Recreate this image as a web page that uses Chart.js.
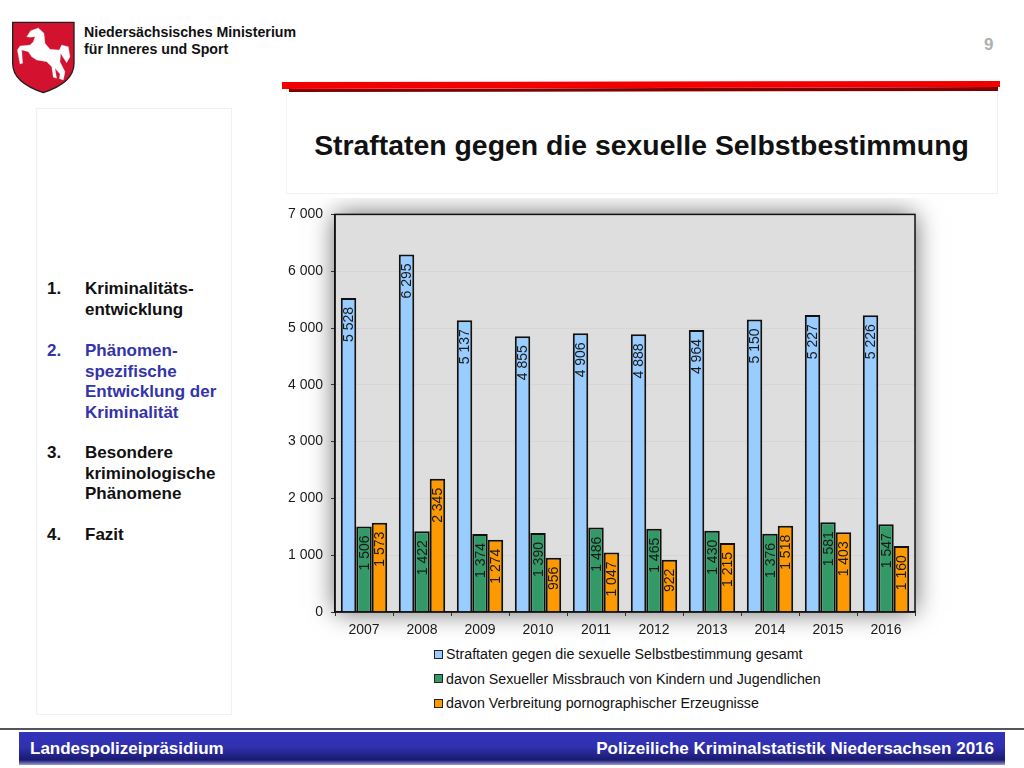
<!DOCTYPE html>
<html lang="de">
<head>
<meta charset="utf-8">
<title>Straftaten gegen die sexuelle Selbstbestimmung</title>
<script src="https://cdn.jsdelivr.net/npm/chart.js@4"></script>
<style>
    html, body { margin: 0; padding: 0; background: #fff; }
    body { position: relative; width: 1024px; height: 768px; overflow: hidden; font-family: "Liberation Sans", Arial, sans-serif; color: #111; }
    .abs { position: absolute; }
    #ministry { left: 84px; top: 24px; font-size: 14.2px; font-weight: bold; line-height: 17px; white-space: nowrap; }
    #pagenum { left: 984px; top: 35px; font-size: 17px; font-weight: bold; color: #b0b0b0; }
    #titlebox { left: 286px; top: 90px; width: 710px; height: 103px; border: 1px solid #f1f1f1; border-top: none; }
    #title { left: 286px; top: 129px; width: 711px; text-align: center; font-size: 28.4px; font-weight: bold; white-space: nowrap; }
    #sidebox { left: 36px; top: 108px; width: 194px; height: 605px; border: 1px solid #f1f1f1; }
    .nav { left: 47px; width: 180px; font-size: 17px; font-weight: bold; line-height: 20.5px; }
    .nav span { position: absolute; left: 0; }
    .nav div { margin-left: 38px; white-space: nowrap; }
    #red { left: 282px; top: 80px; width: 718px; height: 13px; }
    #canvas-wrap { left: 280px; top: 198px; width: 720px; height: 442px; }
    #legend { left: 434px; top: 642px; font-size: 14.25px; }
    .leg { height: 24.5px; line-height: 24px; white-space: nowrap; display: flex; align-items: center; }
    .leg i { display: inline-block; width: 7px; height: 7px; border: 1.5px solid #222; margin-right: 3px; }
    #footline { left: 0; top: 728px; width: 1024px; height: 2px; background: #555; }
    #footer { left: 19px; top: 732px; width: 986px; height: 33px; background: linear-gradient(#3333bb 0%, #3030b0 45%, #1a1a70 85%, #9a9ad8 100%); color: #fff; font-size: 17px; font-weight: bold; line-height: 33px; }
    #footer .l { position: absolute; left: 11px; }
    #footer .r { position: absolute; right: 11px; }
</style>
</head>
<body>
<svg class="abs" style="left:12px;top:21px" width="63" height="73" viewBox="36 63 189 219">
    <path d="M38 67 H222 V190 C222 240 170 265 130 278 C90 265 38 240 38 190 Z" fill="#d3122f" stroke="#222" stroke-width="4"/>
    <path d="M80 110 L92 92 L115 84 L132 100 L135 130 L150 148 L178 150 L185 135 L205 140 L210 170 L200 188 L188 170 L182 160 L180 185 L195 215 L190 240 L178 236 L180 222 L165 205 L170 235 L160 232 L155 200 L140 185 L110 180 L95 170 L85 155 L65 150 L68 190 L60 192 L52 150 L60 138 L90 135 L100 125 L105 110 L90 112 Z" fill="#fff" stroke="#ddd" stroke-width="1"/>
</svg>
<div class="abs" id="ministry">Niedersächsisches Ministerium<br>für Inneres und Sport</div>
<div class="abs" id="pagenum">9</div>

<div class="abs" id="titlebox"></div>
<svg class="abs" id="red" viewBox="0 0 718 13">
    <polygon points="7,9 716,7 716,11 7,12" fill="#800000"/>
    <polygon points="0,2 718,1 718,7 0,9" fill="#f20000"/>
</svg>
<div class="abs" id="title">Straftaten gegen die sexuelle Selbstbestimmung</div>

<div class="abs" id="sidebox"></div>
<div class="abs nav" style="top:279px"><span>1.</span><div>Kriminalitäts-<br>entwicklung</div></div>
<div class="abs nav" style="top:341px;color:#3333aa"><span>2.</span><div>Phänomen-<br>spezifische<br>Entwicklung der<br>Kriminalität</div></div>
<div class="abs nav" style="top:443px"><span>3.</span><div>Besondere<br>kriminologische<br>Phänomene</div></div>
<div class="abs nav" style="top:525px"><span>4.</span><div>Fazit</div></div>

<div class="abs" id="canvas-wrap"><canvas id="chart"></canvas></div>
<div class="abs" id="legend"></div>

<div class="abs" id="footline"></div>
<div class="abs" id="footer"><span class="l">Landespolizeipräsidium</span><span class="r">Polizeiliche Kriminalstatistik Niedersachsen 2016</span></div>

<script>
const years = ['2007', '2008', '2009', '2010', '2011', '2012', '2013', '2014', '2015', '2016'];
const gesamt = [5528, 6295, 5137, 4855, 4906, 4888, 4964, 5150, 5227, 5226];
const missbrauch = [1506, 1422, 1374, 1390, 1486, 1465, 1430, 1376, 1581, 1547];
const verbreitung = [1573, 2345, 1274, 956, 1047, 922, 1215, 1518, 1403, 1160];

const seriesNames = [
    'Straftaten gegen die sexuelle Selbstbestimmung gesamt',
    'davon Sexueller Missbrauch von Kindern und Jugendlichen',
    'davon Verbreitung pornographischer Erzeugnisse'
];
const seriesColors = ['#99ccff', '#339966', '#ff9900'];
const seriesValues = [gesamt, missbrauch, verbreitung];

// 1 234 instead of 1,234
const formatNumber = (n) => String(n).replace(/\B(?=(\d{3})+$)/g, ' ');

const legend = document.getElementById('legend');
seriesNames.forEach((name, i) => {
    const row = document.createElement('div');
    row.classList.add('leg');
    const box = document.createElement('i');
    box.style.background = seriesColors[i];
    const label = document.createElement('span');
    label.textContent = name;
    row.append(box, label);
    legend.append(row);
});

// grey plot background with the soft shadow round it
const plotBackground = {
    id: 'plotBackground',
    beforeDraw(chart) {
        const { ctx, chartArea: a } = chart;
        ctx.save();
        ctx.shadowColor = 'rgba(0, 0, 0, 0.6)';
        ctx.shadowBlur = 24;
        ctx.fillStyle = '#dedede';
        ctx.fillRect(a.left, a.top, a.width, a.height);
        ctx.restore();
    }
};

// labels turned 90 degrees, just under the top of each bar
const barLabels = {
    id: 'barLabels',
    afterDatasetsDraw(chart) {
        const { ctx } = chart;
        chart.data.datasets.forEach((dataset, i) => {
            chart.getDatasetMeta(i).data.forEach((bar, j) => {
                ctx.save();
                ctx.translate(bar.x, bar.y + 9);
                ctx.rotate(-Math.PI / 2);
                ctx.font = '14px "Liberation Sans"';
                ctx.fillStyle = '#1a1a1a';
                ctx.textAlign = 'right';
                ctx.textBaseline = 'middle';
                ctx.fillText(formatNumber(dataset.data[j]), 0, 1);
                ctx.restore();
            });
        });
    }
};

// top border of the plot, the axes draw the other sides
const plotFrame = {
    id: 'plotFrame',
    afterDraw(chart) {
        const { ctx, chartArea: a } = chart;
        ctx.save();
        ctx.strokeStyle = '#111';
        ctx.lineWidth = 1.5;
        ctx.strokeRect(a.left, a.top, a.width, a.height);
        ctx.restore();
    }
};

new Chart(document.getElementById('chart'), {
    type: 'bar',
    data: {
        labels: years,
        datasets: seriesNames.map((name, i) => ({
            label: name,
            data: seriesValues[i],
            backgroundColor: seriesColors[i],
            borderColor: '#111',
            borderWidth: 2,
            categoryPercentage: 0.8,
            barPercentage: 1
        }))
    },
    options: {
        responsive: true,
        maintainAspectRatio: false,
        animation: false,
        layout: { padding: { top: 12, right: 85, bottom: 0, left: 0 } },
        plugins: {
            legend: { display: false },
            tooltip: { enabled: false }
        },
        scales: {
            x: {
                offset: true,
                grid: { offset: true, drawOnChartArea: false, color: '#333', tickLength: 4 },
                border: { color: '#111', width: 1.5 },
                ticks: {
                    color: '#1a1a1a',
                    padding: 6,
                    maxRotation: 0,
                    font: { family: 'Liberation Sans', size: 14 }
                },
                afterFit(axis) { axis.height = 28; }
            },
            y: {
                min: 0,
                max: 7000,
                grid: { color: '#d6d6d6', tickColor: '#333', tickLength: 4 },
                border: { color: '#111', width: 1.5 },
                ticks: {
                    stepSize: 1000,
                    color: '#1a1a1a',
                    padding: 8,
                    callback: (value) => formatNumber(value),
                    font: { family: 'Liberation Sans', size: 14 }
                },
                afterFit(axis) { axis.width = 55; }
            }
        }
    },
    plugins: [plotBackground, barLabels, plotFrame]
});
</script>
</body>
</html>
